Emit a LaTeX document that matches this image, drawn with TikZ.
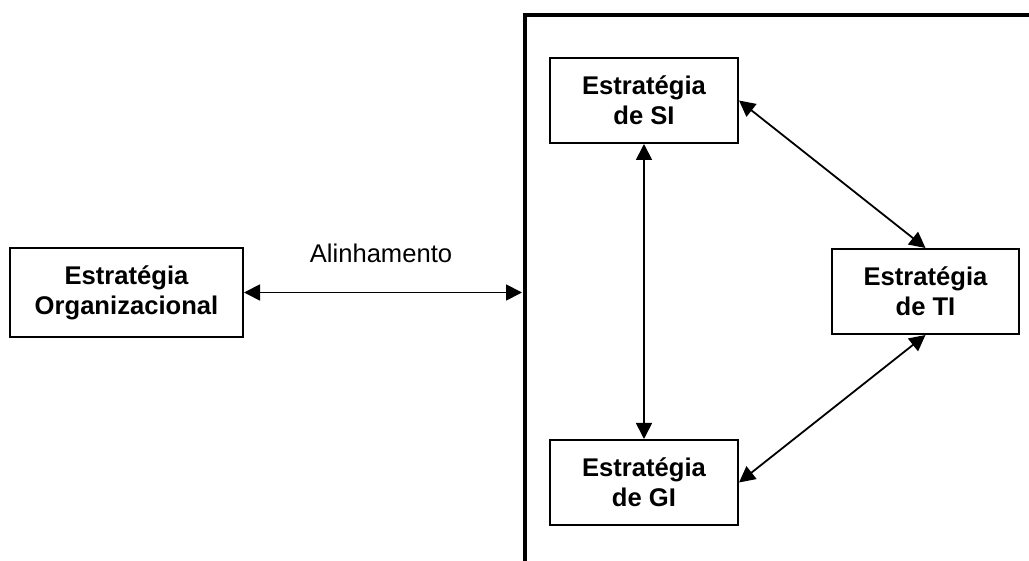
\documentclass[tikz,border=0pt]{standalone}
\usepackage{fontspec}
\setmainfont{Liberation Sans}
\usetikzlibrary{arrows.meta}
\begin{document}
\begin{tikzpicture}[x=0.5pt,y=-0.5pt,
  box/.style={draw,line width=1pt,rectangle,inner sep=0pt,align=center,
    font=\fontsize{12.8}{15}\selectfont\bfseries},
  link/.style={line width=0.9pt,{Triangle[length=8pt,width=8pt]}-{Triangle[length=8pt,width=8pt]}},
  wall/.style={line width=2pt,line join=miter}]
\useasboundingbox (0,0) rectangle (1029,561);
\node[box,minimum width=116.5pt,minimum height=44.5pt] (org) at (126.5,292.5) {Estratégia\\Organizacional};
\node[box,minimum width=94pt,minimum height=42.5pt] (si) at (644,100.5) {Estratégia\\de SI};
\node[box,minimum width=94pt,minimum height=42.5pt] (gi) at (644,482.5) {Estratégia\\de GI};
\node[box,minimum width=93.5pt,minimum height=42.5pt] (ti) at (925.5,291.5) {Estratégia\\de TI};
\coordinate (wtr) at (1034,15);
\coordinate (wtl) at (525,15);
\coordinate (wb) at (525,566);
\coordinate (wm) at (522,292.5);
\draw[wall] (wtr) -- (wtl) -- (wb);
\draw[link] (org.east) -- (wm);
\node[font=\fontsize{12.8}{15}\selectfont] (al) at (381,253) {Alinhamento};
\draw[link] (si.south) -- (gi.north);
\draw[link] (si.east) -- (ti.north);
\draw[link] (gi.east) -- (ti.south);
\end{tikzpicture}
\end{document}
